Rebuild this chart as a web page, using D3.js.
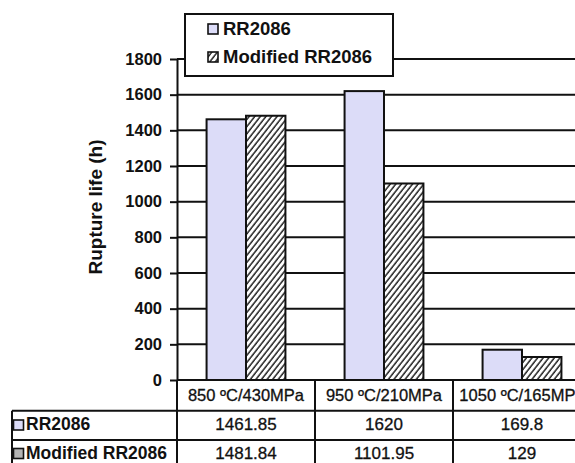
<!DOCTYPE html>
<html>
<head>
<meta charset="utf-8">
<script src="https://cdn.jsdelivr.net/npm/d3@7"></script>
<style>
  html, body { margin: 0; padding: 0; background: #fff; }
  svg { display: block; font-family: Arial, "Liberation Sans", sans-serif; }
</style>
</head>
<body>
<svg id="chart" width="575" height="463"></svg>
<script>
// Test conditions (categories) and rupture life in hours for each alloy
const conditions = ["850 ºC/430MPa", "950 ºC/210MPa", "1050 ºC/165MPa"];
const seriesNames = ["RR2086", "Modified RR2086"];
const rr2086 = [1461.85, 1620, 169.8];
const modifiedRR2086 = [1481.84, 1101.95, 129];
const valueLabels = [
  ["1461.85", "1620", "169.8"],
  ["1481.84", "1101.95", "129"]
];
const yTicks = [0, 200, 400, 600, 800, 1000, 1200, 1400, 1600, 1800];

const svg = d3.select("#chart");
const ink = "#111";
const lavender = "#dcdcf8";

const rows = conditions.map((c, i) => ({ cond: c, values: [rr2086[i], modifiedRR2086[i]] }));

const x = d3.scaleBand().domain(conditions).range([177, 591]).paddingInner(0).paddingOuter(0);
const xs = d3.scaleBand().domain(seriesNames).range([0, x.bandwidth()]).paddingInner(0).paddingOuter(0.75);
const y = d3.scaleLinear().domain([0, 1800]).range([380, 59]);

// Diagonal hatching for the modified alloy
const defs = svg.append("defs");
const pat = defs.append("pattern")
  .attr("id", "hatch")
  .attr("patternUnits", "userSpaceOnUse")
  .attr("width", 4.4).attr("height", 10)
  .attr("patternTransform", "rotate(38)");
pat.append("rect").attr("width", 4.4).attr("height", 10).attr("fill", "#fff");
pat.append("line").attr("x1", 1).attr("y1", 0).attr("x2", 1).attr("y2", 10)
  .attr("stroke", ink).attr("stroke-width", 1.4);

const fills = [lavender, "url(#hatch)"];

// Horizontal gridlines
svg.append("g").selectAll("line")
  .data(yTicks.filter(t => t > 0))
  .join("line")
  .attr("x1", 177).attr("x2", 575)
  .attr("y1", d => y(d)).attr("y2", d => y(d))
  .attr("stroke", ink).attr("stroke-width", 2);

// Y axis with ticks
const yAxis = svg.append("g")
  .attr("transform", "translate(177,0)")
  .call(d3.axisLeft(y).tickValues(yTicks).tickFormat(d3.format("d"))
    .tickSize(7).tickPadding(8).tickSizeOuter(0));
yAxis.select(".domain").attr("stroke", ink).attr("stroke-width", 2);
yAxis.selectAll(".tick line").attr("stroke", ink).attr("stroke-width", 2);
yAxis.selectAll(".tick text")
  .attr("fill", ink)
  .style("font-size", "16.5px")
  .style("font-weight", "bold");

// Bars
const groups = svg.append("g").selectAll("g")
  .data(rows)
  .join("g")
  .attr("transform", d => `translate(${x(d.cond)},0)`);
groups.selectAll("rect")
  .data(d => d.values.map((v, k) => ({ key: seriesNames[k], v, k })))
  .join("rect")
  .attr("x", d => xs(d.key))
  .attr("width", xs.bandwidth())
  .attr("y", d => y(d.v))
  .attr("height", d => y(0) - y(d.v))
  .attr("fill", d => fills[d.k])
  .attr("stroke", ink)
  .attr("stroke-width", 2);

// Y axis title
svg.append("text")
  .attr("transform", "translate(102,207) rotate(-90)")
  .attr("text-anchor", "middle")
  .style("font-size", "19px")
  .style("font-weight", "bold")
  .attr("fill", ink)
  .text("Rupture life (h)");

// Data table under the plot
const table = svg.append("g");
const rowTop = [380, 410.7, 440, 469.3];
const tableLeft = 12;
// horizontal rules
table.append("line").attr("x1", 177).attr("x2", 575).attr("y1", rowTop[0]).attr("y2", rowTop[0])
  .attr("stroke", ink).attr("stroke-width", 2);
table.selectAll("line.h")
  .data(rowTop.slice(1))
  .join("line").attr("class", "h")
  .attr("x1", tableLeft).attr("x2", 575)
  .attr("y1", d => d).attr("y2", d => d)
  .attr("stroke", ink).attr("stroke-width", 2);
// vertical rules
table.append("line").attr("x1", tableLeft).attr("x2", tableLeft).attr("y1", rowTop[1]).attr("y2", 463)
  .attr("stroke", ink).attr("stroke-width", 2);
table.append("line").attr("x1", 177).attr("x2", 177).attr("y1", rowTop[0]).attr("y2", 463)
  .attr("stroke", ink).attr("stroke-width", 2);
table.selectAll("line.v")
  .data(conditions.slice(1))
  .join("line").attr("class", "v")
  .attr("x1", d => x(d)).attr("x2", d => x(d))
  .attr("y1", rowTop[0]).attr("y2", 463)
  .attr("stroke", ink).attr("stroke-width", 2);

// category headers (the last column runs past the right edge)
table.selectAll("text.cat")
  .data(conditions)
  .join("text").attr("class", "cat")
  .attr("x", d => x(d) + x.bandwidth() / 2)
  .attr("y", 401)
  .attr("text-anchor", "middle")
  .style("font-size", "16.5px")
  .attr("fill", ink)
  .attr("stroke", ink).attr("stroke-width", 0.3)
  .text(d => d);

// row labels with legend keys
const keyFills = [lavender, "#b4b4b4"];
const rowBase = [430, 458.5];
seriesNames.forEach((name, k) => {
  table.append("rect")
    .attr("x", 13.5).attr("y", rowBase[k] - 10)
    .attr("width", 10).attr("height", 10)
    .attr("fill", keyFills[k])
    .attr("stroke", ink).attr("stroke-width", 1.6);
  table.append("text")
    .attr("x", 26).attr("y", rowBase[k])
    .style("font-size", "17.5px")
    .style("font-weight", "bold")
    .attr("fill", ink)
    .text(name);
  table.selectAll(null)
    .data(conditions)
    .join("text")
    .attr("x", d => x(d) + x.bandwidth() / 2)
    .attr("y", rowBase[k])
    .attr("text-anchor", "middle")
    .style("font-size", "17px")
    .attr("fill", ink)
    .attr("stroke", ink).attr("stroke-width", 0.3)
    .text((d, i) => valueLabels[k][i]);
});

// Legend box
const legend = svg.append("g");
legend.append("rect")
  .attr("x", 185).attr("y", 14).attr("width", 208).attr("height", 62)
  .attr("fill", "#fff").attr("stroke", ink).attr("stroke-width", 2);
const legY = [35, 63];
seriesNames.forEach((name, k) => {
  legend.append("rect")
    .attr("x", 208).attr("y", legY[k] - 11)
    .attr("width", 10).attr("height", 10)
    .attr("fill", fills[k])
    .attr("stroke", ink).attr("stroke-width", 1.6);
  legend.append("text")
    .attr("x", 223).attr("y", legY[k])
    .style("font-size", "18.5px")
    .style("font-weight", "bold")
    .attr("fill", ink)
    .text(name);
});
</script>
</body>
</html>
